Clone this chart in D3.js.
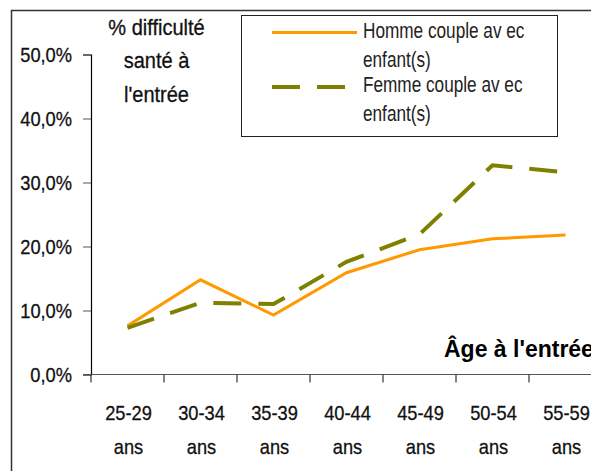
<!DOCTYPE html>
<html>
<head>
<meta charset="utf-8">
<script src="https://cdn.jsdelivr.net/npm/d3@7.9.0/dist/d3.min.js"></script>
<style>
  body { margin: 0; background: #fff; }
  svg { display: block; font-family: "Liberation Sans", Arial, sans-serif; }
</style>
</head>
<body>
<svg width="591" height="471"></svg>
<script>
// data
const ages = ['25-29 ans', '30-34 ans', '35-39 ans', '40-44 ans', '45-49 ans', '50-54 ans', '55-59 ans'];
const homme = [0.076, 0.148, 0.093, 0.159, 0.195, 0.212, 0.218];
const femme = [0.073, 0.112, 0.110, 0.176, 0.219, 0.327, 0.316];
const yTicks = [0, 0.1, 0.2, 0.3, 0.4, 0.5];
const seriesNames = ['Homme couple av ec|enfant(s)', 'Femme couple av ec|enfant(s)'];

const svg = d3.select('svg');

// outer frame (runs past the right / bottom edge)
svg.append('rect')
  .attr('x', 11.5).attr('y', 10.5)
  .attr('width', 620).attr('height', 500)
  .attr('fill', 'none').attr('stroke', '#333').attr('stroke-width', 1.5);

let x = d3.scaleBand().domain(ages).range([91, 602]);
let y = d3.scaleLinear().domain([0, 0.5]).range([374.5, 54.5]);

const fmt = d => d3.format('.1f')(d * 100).replace('.', ',') + '%';

// old excel Arial: tall and narrow, a bit heavy
function ink(sel) {
  sel.attr('fill', '#111').attr('stroke', '#111').attr('stroke-width', 0.3);
}

// multi-line text squeezed horizontally
function label(g, px, py, lines, size, sx, gap, anchor) {
  let t = g.append('text')
    .attr('transform', `translate(${px},${py}) scale(${sx},1)`)
    .attr('text-anchor', anchor)
    .attr('font-size', size);
  lines.forEach((s, i) => {
    t.append('tspan').attr('x', 0).attr('y', i * gap).text(s);
  });
  return t;
}

// y axis
const tsx = 0.87;
let yAxis = svg.append('g')
  .attr('transform', 'translate(91,0)')
  .call(d3.axisLeft(y).tickValues(yTicks).tickSize(8).tickPadding(11).tickFormat(fmt));
yAxis.select('.domain').attr('stroke', '#000').attr('stroke-width', 1.2);
yAxis.selectAll('.tick line').attr('stroke', '#555');
yAxis.selectAll('.tick text')
  .attr('font-size', 21)
  .attr('font-family', '"Liberation Sans", Arial, sans-serif')
  .attr('transform', `scale(${tsx},1)`)
  .attr('x', -19 / tsx)
  .call(ink);

// x axis: line and ticks at band edges
let xg = svg.append('g');
xg.append('line')
  .attr('x1', 83).attr('x2', 600)
  .attr('y1', y(0)).attr('y2', y(0))
  .attr('stroke', '#555').attr('stroke-width', 1.2);
xg.selectAll('.xt')
  .data(ages)
  .join('line')
  .attr('x1', d => x(d)).attr('x2', d => x(d))
  .attr('y1', y(0)).attr('y2', y(0) + 8)
  .attr('stroke', '#333').attr('stroke-width', 1.2);
ages.forEach(a => {
  label(xg, x(a) + x.bandwidth() / 2 + 1, 420, a.split(' '), 21, 0.87, 34, 'middle').call(ink);
});

// lines
let line = d3.line()
  .x((d, i) => x(ages[i]) + x.bandwidth() / 2)
  .y(d => y(d));

svg.append('path')
  .datum(homme)
  .attr('d', line)
  .attr('fill', 'none')
  .attr('stroke', '#ff9900')
  .attr('stroke-width', 3);

svg.append('path')
  .datum(femme)
  .attr('d', line)
  .attr('fill', 'none')
  .attr('stroke', '#808000')
  .attr('stroke-width', 4)
  .attr('stroke-dasharray', '28,17');

// axis titles
label(svg, 156.5, 35, ['% difficulté', 'santé à', "l'entrée"], 22, 0.91, 33.5, 'middle').call(ink);

svg.append('text')
  .attr('x', 444).attr('y', 357)
  .attr('font-size', 23).attr('font-weight', 'bold').attr('fill', '#000')
  .text("Âge à l'entrée");

// legend
let lg = svg.append('g');
lg.append('rect')
  .attr('x', 241.5).attr('y', 15.5)
  .attr('width', 316).attr('height', 121)
  .attr('fill', '#fff').attr('stroke', '#222').attr('stroke-width', 1);

const legendColors = ['#ff9900', '#808000'];
const legendDash = [null, '28,17'];
const legendWidth = [3, 4];
seriesNames.forEach((name, i) => {
  let ly = 32.5 + i * 54.5;
  lg.append('line')
    .attr('x1', 272).attr('x2', i === 0 ? 357 : 346)
    .attr('y1', ly).attr('y2', ly)
    .attr('stroke', legendColors[i])
    .attr('stroke-width', legendWidth[i])
    .attr('stroke-dasharray', legendDash[i]);
  label(lg, 363, 38 + i * 53.5, name.split('|'), 21.5, 0.8, 29.5, 'start')
    .attr('fill', '#222');
});
</script>
</body>
</html>
